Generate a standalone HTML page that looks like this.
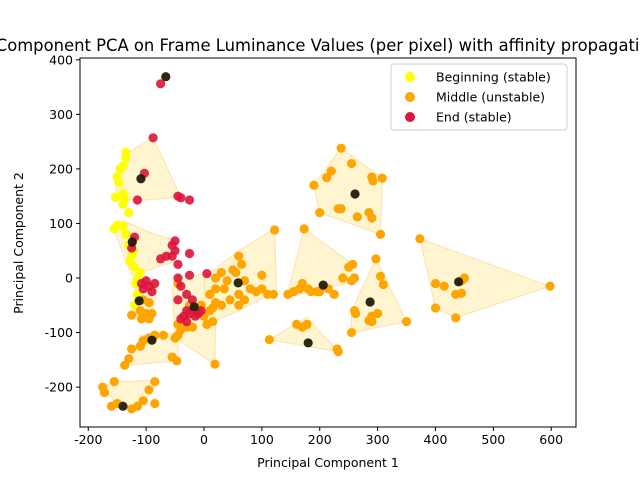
<!DOCTYPE html>
<html><head><meta charset="utf-8"><style>
body{margin:0;background:#fff;}
svg{display:block;font-family:"DejaVu Sans","Liberation Sans",sans-serif;}
</style></head><body>
<svg id="chart" width="640" height="480">
<text x="320" y="51" font-size="16.4" text-anchor="middle">2 Component PCA on Frame Luminance Values (per pixel) with affinity propagation</text>
<g id="hulls"></g><g id="pts"></g><g id="ctrs"></g><g id="axes"></g>
</svg>
<script>
const xTicks=[-200,-100,0,100,200,300,400,500,600];
const yTicks=[-200,-100,0,100,200,300,400];
const clusterCenters=[[-66,369],[-109,182],[-124,66],[-112,-42],[-17,-53],[-90,-114],[-140,-235],[59,-9],[206,-13],[261,154],[287,-44],[440,-7],[180,-119]];
const clusterHulls=[
[],
[[-88,257],[-133,228],[-150,175],[-153,148],[-115,142],[-40,148]],
[[-140,105],[-157,92],[-125,5],[-50,30],[-50,68],[-90,82]],
[[-118,2],[-80,-8],[-90,-72],[-125,-70],[-120,-50]],
[[-45,2],[8,8],[20,-50],[19,-158],[-50,-110],[-55,-25]],
[[-132,-160],[-110,-106],[-45,-100],[-45,-152]],
[[-175,-200],[-155,-190],[-85,-188],[-95,-215],[-120,-240],[-150,-232]],
[[0,0],[60,50],[122,90],[125,-25],[60,-60],[5,-85]],
[[173,90],[257,25],[255,-8],[143,-35]],
[[237,238],[308,183],[305,80],[200,120],[190,170]],
[[297,35],[350,-80],[255,-100],[255,-60]],
[[373,72],[598,-15],[435,-73],[400,-55]],
[[178,-72],[113,-113],[232,-135]]];
const beginX=[-135,-135,-140,-145,-150,-147,-140,-153,-137,-140,-130,-140,-150,-155,-135,-130,-125,-120,-110,-115,-118,-115,-120,-128,-122];
const beginY=[230,220,205,200,185,175,155,148,145,135,120,95,97,90,80,60,40,20,10,0,-10,-30,-50,30,50];
const middleX=[-105,-95,-110,-125,-108,-95,-90,-100,-45,-5,-25,-30,-45,-50,-40,0,10,15,20,-20,19,-47,-55,-45,-70,-85,-95,-105,-110,-125,-130,-137,-175,-172,-155,-160,-150,-125,-115,-105,-95,-85,-85,20,30,40,50,60,65,55,70,60,45,35,20,30,10,80,90,100,110,100,120,122,15,5,60,70,173,250,257,240,255,260,170,165,180,185,195,200,215,145,155,225,237,255,220,212,190,290,292,308,200,232,237,265,290,285,305,297,305,310,300,290,285,290,260,262,255,350,373,400,415,445,450,435,445,400,435,598,178,170,160,113,230,232];
const middleY=[-40,-45,-60,-68,-75,-75,-65,-65,-10,-50,-50,-90,-85,-110,-95,-70,-60,-80,-45,-90,-158,-152,-145,-105,-105,-105,-110,-115,-125,-130,-148,-160,-200,-210,-190,-235,-230,-240,-235,-225,-205,-190,-230,0,10,-5,15,40,25,10,-5,-30,-40,-20,-20,-50,-30,-20,-25,5,-30,-20,-30,88,-55,-85,-50,-40,90,20,25,0,-5,0,-10,-20,-20,-25,-25,-25,-20,-30,-25,-30,238,210,196,184,170,185,178,183,120,127,127,112,110,120,80,35,3,-12,-65,-70,-78,-80,-60,-65,-100,-80,72,-10,-15,-5,0,-30,-28,-55,-73,-15,-85,-90,-85,-113,-130,-135];
const endX=[-75,-88,-103,-115,-45,-40,-25,-120,-125,-65,-50,-55,-50,-75,-45,-25,-55,-108,-100,-105,-95,-85,-90,-45,-40,-30,-20,-45,-30,-25,-15,-10,-5,-35,-40,-30,5,-25];
const endY=[356,257,192,143,150,147,143,75,55,40,50,60,68,35,25,45,40,-10,-5,-20,-15,-10,-25,0,-15,-30,-40,-40,-60,-65,-70,-65,-60,-70,-75,-80,8,5];
const X0=80,X1=576,Y0=58,Y1=427;
const sx=v=>204+v*0.5787, sy=v=>278-v*0.5455;
const NS='http://www.w3.org/2000/svg';
function mk(tag,attrs,parent){const e=document.createElementNS(NS,tag);for(const k in attrs)e.setAttribute(k,attrs[k]);parent.appendChild(e);return e;}
const hg=document.getElementById('hulls'),pg=document.getElementById('pts'),cg=document.getElementById('ctrs'),ag=document.getElementById('axes');
clusterHulls.forEach(h=>{if(!h.length)return;
 const p=mk('polygon',{points:h.map(q=>sx(q[0])+','+sy(q[1])).join(' '),fill:'#fff3c8','fill-opacity':0.85,stroke:'#ffe0a8','stroke-width':1},hg);
 
 });
function series(xs,ys,col,name,op){xs.forEach((x,i)=>{const c=mk('circle',{cx:sx(x),cy:sy(ys[i]),r:4.6,fill:col,'fill-opacity':op},pg);
 
 });}
series(beginX,beginY,'#ffff00','beginning-point',1);
series(middleX,middleY,'#ffa500','middle-point',1);
series(endX,endY,'#dc143c','end-point',0.9);
clusterCenters.forEach(c=>{const e=mk('circle',{cx:sx(c[0]),cy:sy(c[1]),r:4.6,fill:'#1a1600',"fill-opacity":0.92},cg);
 
 });
const fr=mk('rect',{x:X0,y:Y0,width:X1-X0,height:Y1-Y0,fill:'none',stroke:'#000','stroke-width':1},ag);


xTicks.forEach(t=>{const x=sx(t);mk('line',{x1:x,x2:x,y1:Y1,y2:Y1+4,stroke:'#000'},ag);
 const tx=mk('text',{x:x,y:Y1+17,'font-size':12.5,'text-anchor':'middle'},ag);tx.textContent=t;
 
 });
yTicks.forEach(t=>{const y=sy(t);mk('line',{x1:X0-4,x2:X0,y1:y,y2:y,stroke:'#000'},ag);
 const tx=mk('text',{x:X0-7,y:y+4.5,'font-size':12.5,'text-anchor':'end'},ag);tx.textContent=t;
 
 });
const xl=mk('text',{x:328,y:467,'font-size':12.5,'text-anchor':'middle'},ag);xl.textContent='Principal Component 1';


const yl=mk('text',{x:23,y:243,'font-size':12.5,'text-anchor':'middle',transform:'rotate(-90 23 243)'},ag);yl.textContent='Principal Component 2';


const lg=mk('g',{},ag);


mk('rect',{x:391,y:64,width:176,height:66,rx:3,fill:'#fff','fill-opacity':0.85,stroke:'#ccc'},lg);
[['Beginning (stable)','#ffff00'],['Middle (unstable)','#ffa500'],['End (stable)','#dc143c']].forEach((e,i)=>{
 const y=77+i*20;
 const c=mk('circle',{cx:410,cy:y,r:5,fill:e[1]},lg);
 
 
 const t=mk('text',{x:436,y:y+4.5,'font-size':12.5},lg);t.textContent=e[0];
 
 });
</script>
</body></html>
